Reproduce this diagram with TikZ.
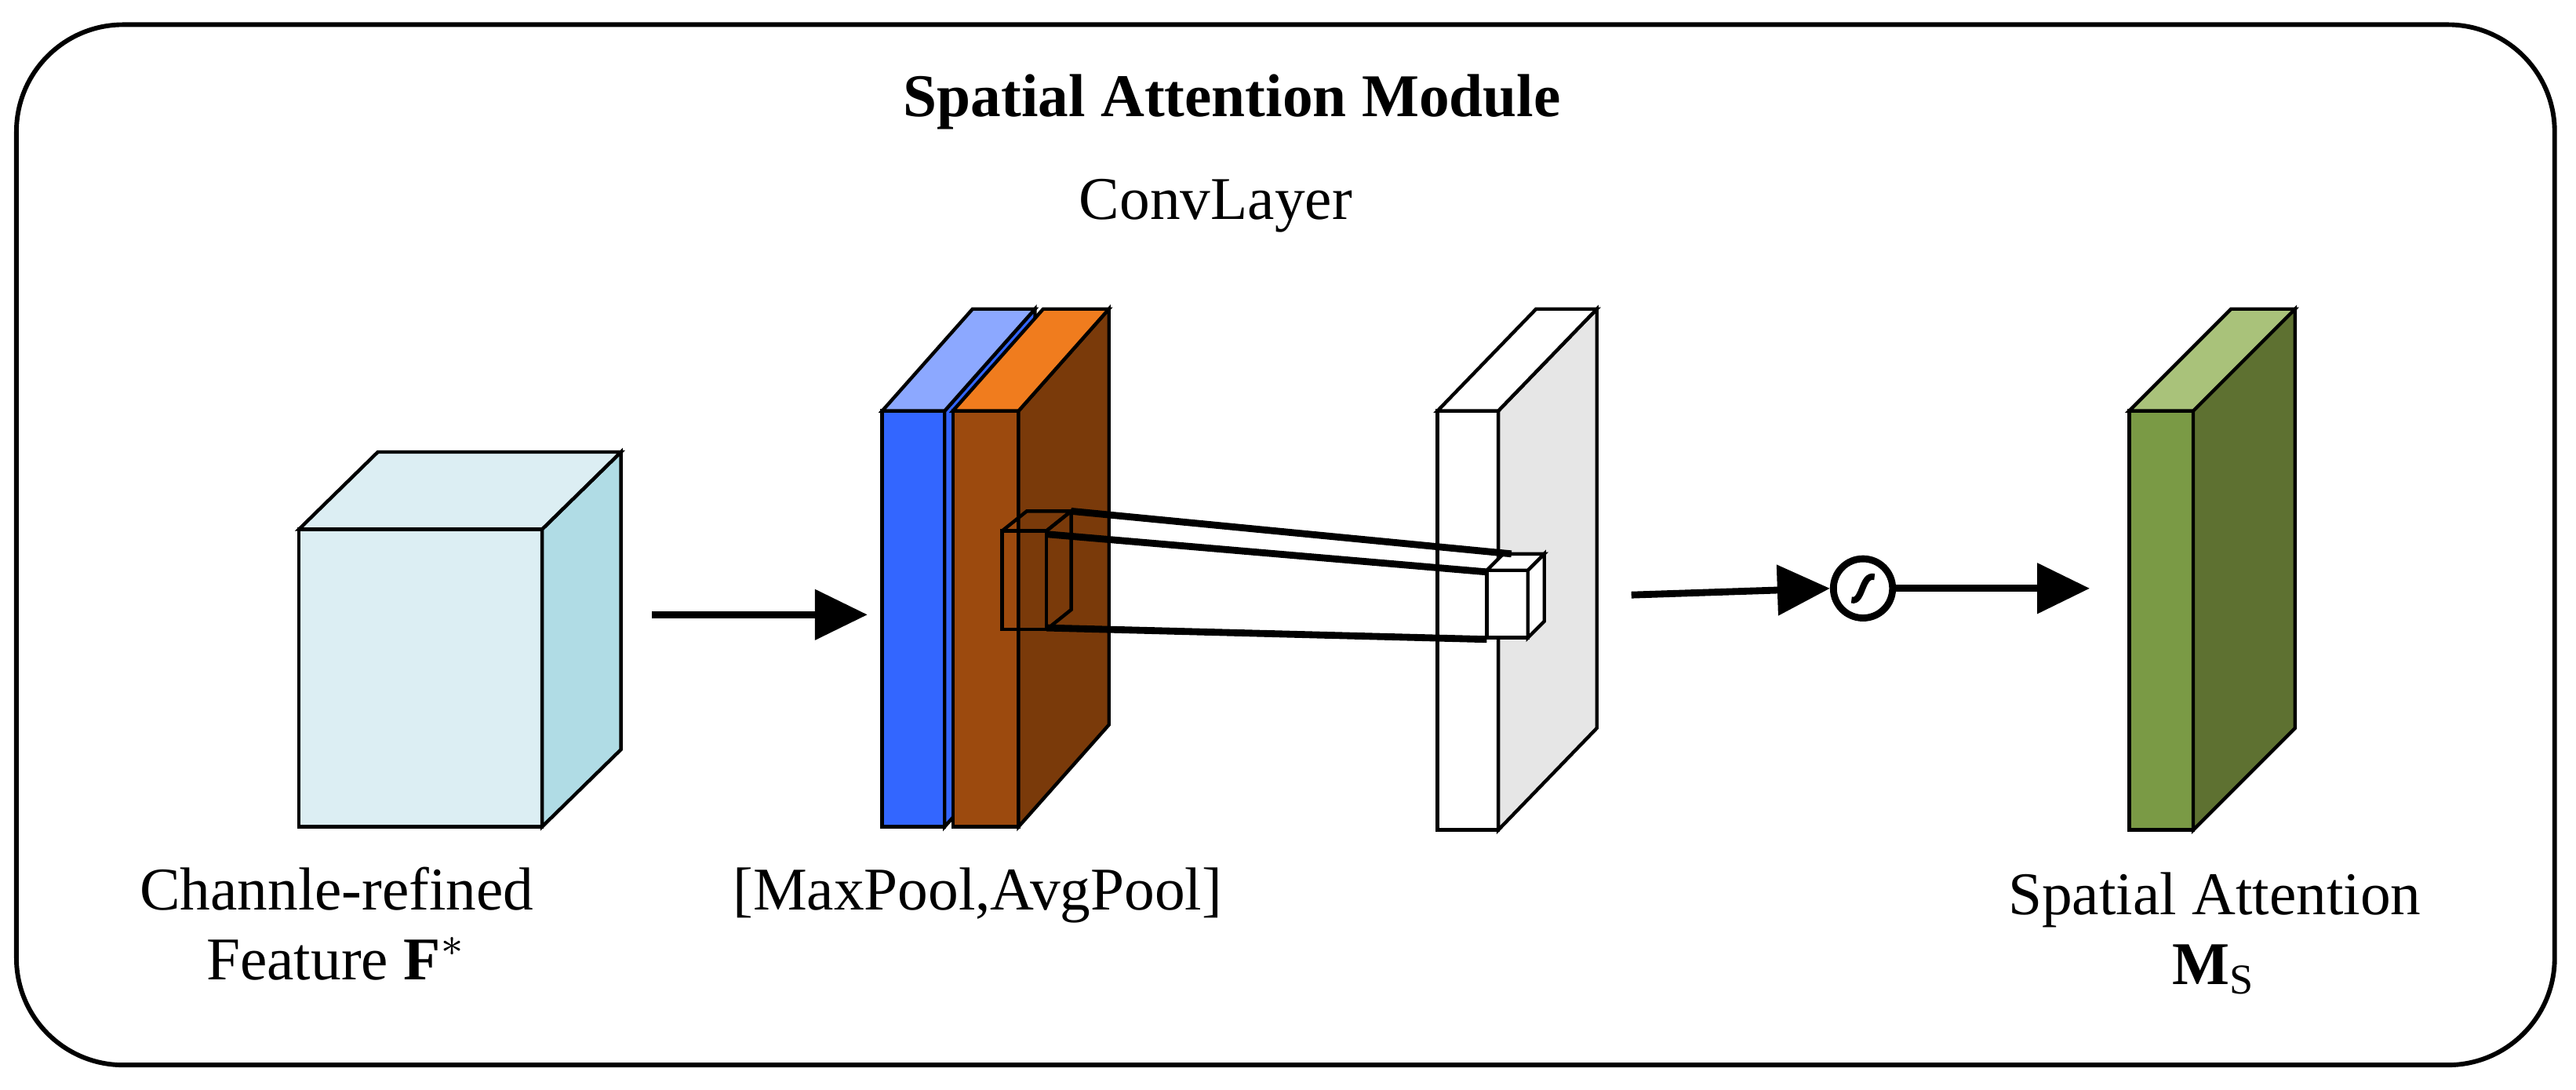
\documentclass[tikz,border=0pt]{standalone}
\usepackage{fontspec}
\setmainfont{Liberation Serif}
\usetikzlibrary{arrows.meta}
\usetikzlibrary{calc}

\definecolor{cubefront}{HTML}{DCEEF3}
\definecolor{cubeside}{HTML}{B0DCE5}
\definecolor{bluefront}{HTML}{3366FF}
\definecolor{bluetop}{HTML}{8CA8FF}
\definecolor{orangefront}{HTML}{9C4A0E}
\definecolor{orangeside}{HTML}{7A3A0A}
\definecolor{orangetop}{HTML}{F07C1E}
\definecolor{grayside}{HTML}{E6E6E6}
\definecolor{greenfront}{HTML}{7A9A45}
\definecolor{greenside}{HTML}{5E7131}
\definecolor{greentop}{HTML}{A9C27A}

%% box: left, top, right, bottom, depth, front, side, top %%
\newcommand{\drawbox}[8]{%
  \draw[fill=#6] (#1,#2) rectangle (#3,#4);
  \draw[fill=#7] (#3,#2) -- ++#5 -- ++(0,#4-#2) -- (#3,#4) -- cycle;
  \draw[fill=#8] (#1,#2) -- ++#5 -- ++(#3-#1,0) -- (#3,#2) -- cycle;
}

\tikzset{
  flow/.style={line width=1.2pt, -{Triangle[length=0.32cm,width=0.3cm]}},
  link/.style={line width=1.2pt},
  label/.style={font=\fontsize{10.5}{12}\selectfont, align=center}
}

\begin{document}
\begin{tikzpicture}[x=0.01cm, y=-0.01cm, line width=0.6pt]
\useasboundingbox (0,0) rectangle (1568,663);

%% Outer box %%
\draw[line width=0.8pt, rounded corners=0.65cm] (10,15) rectangle (1555,648);
\node[label, font=\fontsize{10.5}{12}\selectfont\bfseries] (title) at (750,62) {Spatial Attention Module};
\node[label] (conv) at (740,125) {ConvLayer};

%% Input feature %%
\drawbox{182}{322}{330}{503}{(48,-47)}{cubefront}{cubeside}{cubefront}

%% Pooled maps %%
\drawbox{537}{250}{575}{503}{(55,-62)}{bluefront}{bluefront}{bluetop}
\drawbox{580}{250}{620}{503}{(55,-62)}{orangefront}{orangeside}{orangetop}
% kernel %
\draw (610,323) rectangle (637,383);
\draw (610,323) -- ++(15,-12) -- ++(27,0) -- (637,323);
\draw (637,323) -- ++(15,-12) -- ++(0,60) -- (637,383);

%% Conv output %%
\drawbox{875}{250}{912}{505}{(60,-62)}{white}{grayside}{white}
\drawbox{905}{347}{930}{388}{(10,-10)}{white}{white}{white}

%% Kernel links %%
\coordinate (ka) at (652,311);
\coordinate (kb) at (637,325);
\coordinate (kc) at (637,382);
\coordinate (ta) at (920,337);
\coordinate (tb) at (905,348);
\coordinate (tc) at (905,389);
\draw[link] (ka) -- (ta);
\draw[link] (kb) -- (tb);
\draw[link] (kc) -- (tc);

%% Sigmoid %%
\node[draw, circle, line width=1.2pt, minimum size=0.36cm, inner sep=0pt] (sig) at (1134,358) {};
\draw[line width=1.1pt] (1127,365) .. controls (1134,367) and (1133,349) .. (1141,351);

%% Output %%
\drawbox{1296}{250}{1335}{505}{(62,-62)}{greenfront}{greenside}{greentop}

%% Connection arrows %%
\coordinate (a1) at (397,374);
\coordinate (a2) at (528,374);
\coordinate (b1) at (993,362);
\coordinate (c2) at (1272,358);
\draw[flow] (a1) -- (a2);
\draw[flow] (b1) -- (sig.west);
\draw[flow] (sig.east) -- (c2);

%% Labels %%
\node[label] (inlab) at (205,562) {Channle-refined\\Feature $\mathbf{F}^{*}$};
\node[label] (poollab) at (595,545) {[MaxPool,AvgPool]};
\node[label] (outlab) at (1348,568) {Spatial Attention\\$\mathbf{M}_{\mathrm{S}}$};
\end{tikzpicture}
\end{document}
